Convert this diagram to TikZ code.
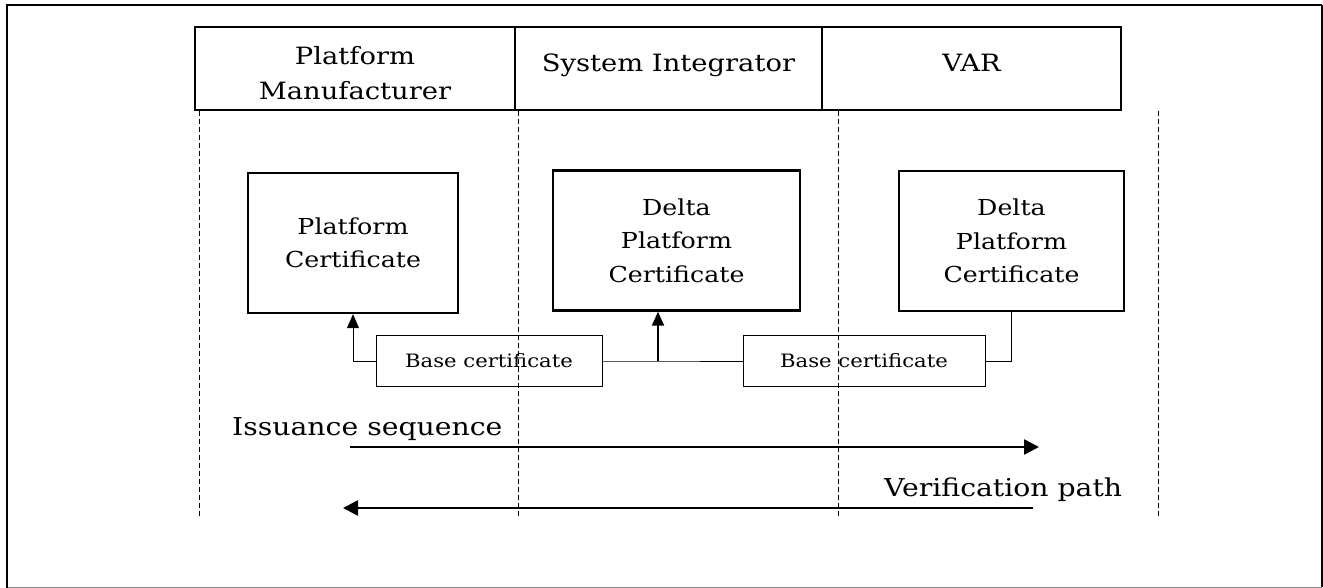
\documentclass[tikz,border=0pt]{standalone}
\usepackage{fontspec}
\setmainfont{DejaVu Serif}[FakeStretch=1.15]
\usetikzlibrary{arrows.meta,calc}
\begin{document}
\begin{tikzpicture}[x=1pt,y=-1pt,
  cell/.style={draw,line width=2.2pt,minimum height=83pt,inner sep=0pt},
  celltext/.style={inner sep=0pt,align=center,font=\fontsize{23.8}{35}\selectfont},
  cert/.style={draw,line width=2.4pt,minimum height=140pt,inner sep=0pt,align=center,
    font=\fontsize{22}{33.5}\selectfont},
  basebox/.style={draw,line width=1pt,minimum height=51pt,inner sep=0pt,
    font=\fontsize{18.4}{22}\selectfont},
  lane/.style={dash pattern=on 5pt off 3pt,line width=1pt},
  link/.style={line width=1pt},
  flow/.style={line width=2.6pt,-{Triangle[length=15pt,width=15pt]}},
  lbl/.style={inner sep=0pt,font=\fontsize{24.6}{28}\selectfont}]
\useasboundingbox (0,0) rectangle (1323,588);
% outer frame
\draw[line width=0.9pt,black!45] (7,587) -- (1322,587);
\draw[line width=1.2pt] (1322,5) -- (1322,587);
\draw[line width=2.4pt] (7,588) -- (7,5) -- (1322,5);
% swim-lane headers
\node[cell,minimum width=320pt] (hd1) at (355,68.5) {};
\node[cell,minimum width=307pt] (hd2) at (668.5,68.5) {};
\node[cell,minimum width=299pt] (hd3) at (971.5,68.5) {};
\node[celltext,anchor=base] (hd1t) at (355,100) {Platform\\Manufacturer};
\node[celltext,anchor=base] (hd2t) at (668.5,72) {System Integrator};
\node[celltext,anchor=base] (hd3t) at (971.5,72) {VAR};
% lane separators
\coordinate (l1t) at (199,111); \coordinate (l1b) at (199,518);
\coordinate (l2t) at (518,111); \coordinate (l2b) at (518,518);
\coordinate (l3t) at (838,111); \coordinate (l3b) at (838,518);
\coordinate (l4t) at (1158,111); \coordinate (l4b) at (1158,518);
\draw[lane] (l1t) -- (l1b);
\draw[lane] (l2t) -- (l2b);
\draw[lane] (l3t) -- (l3b);
\draw[lane] (l4t) -- (l4b);
% certificates
\node[cert,minimum width=210pt] (pc) at (353,243) {Platform\\Certificate};
\node[cert,minimum width=247pt] (d1) at (676.5,240.5) {Delta\\Platform\\Certificate};
\node[cert,minimum width=225pt] (d2) at (1011.5,241) {Delta\\Platform\\Certificate};
% base certificate references
\node[basebox,minimum width=226pt] (b1) at (489,361) {Base certificate};
\node[basebox,minimum width=242pt] (b2) at (864,361) {Base certificate};
\coordinate (j1) at (658,361);
\draw[link,-{Triangle[length=14pt,width=12pt]}] (b1.west) -| (pc.south);
\draw[link] (b1.east) -- (j1) -- (b2.west);
\draw[line width=2pt,-{Triangle[length=14pt,width=12pt]}] (j1) -- (j1 |- d1.south);
\draw[link] (b2.east) -| (d2.south);
% issuance and verification directions
\coordinate (is0) at (350,447); \coordinate (is1) at (1039,447);
\coordinate (vp0) at (1033,508); \coordinate (vp1) at (343,508);
\draw[flow] (is0) -- (is1);
\draw[flow] (vp0) -- (vp1);
\node[lbl,anchor=base west] (islbl) at (232,435) {Issuance sequence};
\node[lbl,anchor=base west] (vplbl) at (884,496) {Verification path};
\end{tikzpicture}
\end{document}
